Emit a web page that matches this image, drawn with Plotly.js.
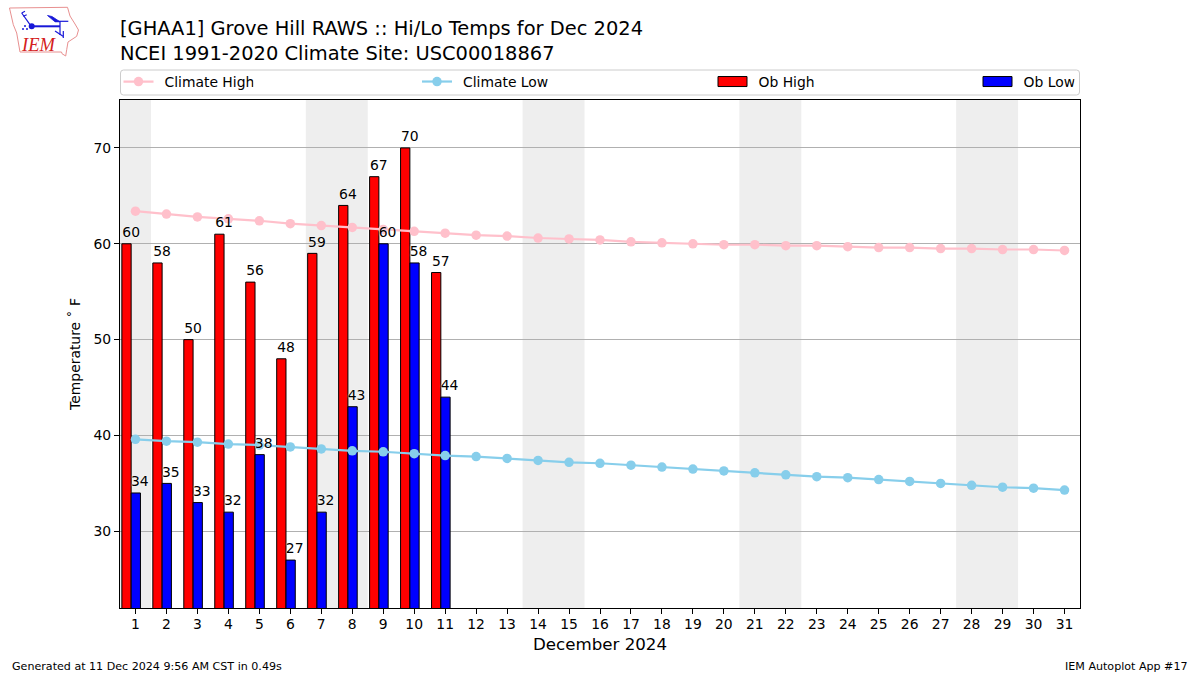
<!DOCTYPE html>
<html><head><meta charset="utf-8">
<script src="https://cdn.plot.ly/plotly-3.0.1.min.js"></script>
<style>html,body{margin:0;padding:0;background:#fff}#c{width:1200px;height:675px}</style>
</head><body><div id="c"></div>
<script>
const days = [1,2,3,4,5,6,7,8,9,10,11,12,13,14,15,16,17,18,19,20,21,22,23,24,25,26,27,28,29,30,31];
const climateHigh = [63.4,63.1,62.8,62.6,62.4,62.1,61.9,61.7,61.5,61.3,61.1,60.9,60.8,60.6,60.5,60.4,60.2,60.1,60.0,59.9,59.9,59.8,59.8,59.7,59.6,59.6,59.5,59.5,59.4,59.4,59.3];
const climateLow = [39.6,39.4,39.3,39.1,39.0,38.8,38.6,38.4,38.3,38.1,37.9,37.8,37.6,37.4,37.2,37.1,36.9,36.7,36.5,36.3,36.1,35.9,35.7,35.6,35.4,35.2,35.0,34.8,34.6,34.5,34.3];
const obsDays = [1,2,3,4,5,6,7,8,9,10,11];
const obHigh = [60,58,50,61,56,48,59,64,67,70,57];
const obLow = [34,35,33,32,38,27,32,43,60,58,44];
const weekends = [[0.5,1.5],[6.5,8.5],[13.5,15.5],[20.5,22.5],[27.5,29.5]];
const yTicks = [30,40,50,60,70];
const FONT = 'DejaVu Sans, sans-serif';
const L=120,R=1080,T=100,B=608;
const px = x => (x-L)/(R-L);
const py = y => (B-y)/(B-T);
const lbl = (x,vals,off) => ({
  x:x.map(d=>d+off), y:vals.map(v=>v+0.35), text:vals.map(String), mode:'text', type:'scatter',
  textposition:'top center', showlegend:false, hoverinfo:'skip',
  textfont:{family:FONT,size:13.9,color:'#000',shadow:'0 0 2px #fff'}
});
const traces = [
  {type:'bar',name:'Ob High',x:obsDays,y:obHigh,width:0.3,offset:-0.44,marker:{color:'#ff0000',line:{color:'#000',width:1}},legend:'legend3'},
  {type:'bar',name:'Ob Low',x:obsDays,y:obLow,width:0.3,offset:-0.14,marker:{color:'#0000ff',line:{color:'#000',width:1}},legend:'legend4'},
  {type:'scatter',mode:'lines+markers',name:'Climate High',x:days,y:climateHigh,line:{color:'#ffc0cb',width:2.2},marker:{color:'#ffc0cb',size:9.5},legend:'legend'},
  {type:'scatter',mode:'lines+markers',name:'Climate Low',x:days,y:climateLow,line:{color:'#87ceeb',width:2.2},marker:{color:'#87ceeb',size:9.5},legend:'legend2'},
  lbl(obsDays,obHigh,-0.14),
  lbl(obsDays,obLow,0.14)
];
const shapes = weekends.map(w=>({type:'rect',xref:'x',yref:'paper',x0:w[0],x1:w[1],y0:0,y1:1,fillcolor:'#eeeeee',line:{width:0},layer:'below'}));
// legend frame
const bx0=px(120.5),bx1=px(1079.5),by0=py(95),by1=py(70),rx=3/960,ry=3/508;
shapes.push({type:'path',xref:'paper',yref:'paper',layer:'below',line:{color:'#cccccc',width:1},fillcolor:'rgba(255,255,255,0.8)',
 path:`M${bx0+rx},${by1} L${bx1-rx},${by1} Q${bx1},${by1} ${bx1},${by1-ry} L${bx1},${by0+ry} Q${bx1},${by0} ${bx1-rx},${by0} L${bx0+rx},${by0} Q${bx0},${by0} ${bx0},${by0+ry} L${bx0},${by1-ry} Q${bx0},${by1} ${bx0+rx},${by1} Z`});
// logo
const poly = (pts,close)=>pts.map((p,i)=>(i?'L':'M')+px(p[0])+','+py(p[1])).join(' ')+(close?' Z':'');
const pathShape=(pts,close,color,w,fill)=>({type:'path',xref:'paper',yref:'paper',path:poly(pts,close),line:{color,width:w},fillcolor:fill||'rgba(0,0,0,0)'});
const iowa=[[9.5,8],[67.5,7.3],[70,16],[75,24],[78.5,30],[76.7,36.3],[68,42],[66.7,49.7],[65.7,56],[62,53.7],[61.5,52],[20,52],[16.7,33],[13.3,24.7]];
shapes.push(pathShape(iowa,true,'#e89090',1,'#fff'));
const LB='#1818d8';
[[[[31.7,26.3],[60,26.3]],2],[[[30,24.7],[21.7,13]],1.2],[[[21.7,13],[25,11.3]],1.2],[[[23.3,16.3],[26.7,14.7]],1.2],
 [[[55,21.3],[68.3,21.3]],1.2],[[[60,21],[60,35]],1.2],[[[55,31],[63,36.3]],1.2],[[[63.3,31],[63.3,38]],1.2]]
 .forEach(b=>shapes.push(pathShape(b[0],false,LB,b[1])));
shapes.push(pathShape([[47.5,15.5],[52,16.5],[60,21.8],[55,21.8]],true,LB,0.8,LB));
const dot=(x,y,r)=>({type:'circle',xref:'paper',yref:'paper',x0:px(x-r),x1:px(x+r),y0:py(y+r),y1:py(y-r),fillcolor:LB,line:{width:0}});
shapes.push(dot(31.7,26.3,3),dot(25,26,1),dot(23,29,1),dot(27,29,1));
const ann=(text,x,y,size,anchor,extra)=>Object.assign({text,xref:'paper',yref:'paper',x:px(x),y:py(y),showarrow:false,xanchor:anchor,yanchor:'middle',font:{family:FONT,size,color:'#000'}},extra||{});
const annotations=[
  ann('Generated at 11 Dec 2024 9:56 AM CST in 0.49s',10,666,11.1,'left'),
  ann('IEM Autoplot App #17',1189.5,666,11.1,'right'),
  ann('<i>IEM</i>',38,45,18,'center',{font:{family:'Liberation Serif, serif',size:18.5,color:'#d42020'}})
];
const legendBase={orientation:'v',bgcolor:'rgba(0,0,0,0)',borderwidth:0,yanchor:'middle',xanchor:'left',y:py(82),font:{family:FONT,size:13.9,color:'#000'},itemwidth:30,itemclick:false,itemdoubleclick:false};
const layout={
  width:1200,height:675,margin:{l:L,r:1200-R,t:T,b:675-B,pad:0},
  paper_bgcolor:'#fff',plot_bgcolor:'#fff',font:{family:FONT,color:'#000'},
  barmode:'overlay',shapes,annotations,hovermode:false,
  title:{text:'[GHAA1] Grove Hill RAWS :: Hi/Lo Temps for Dec 2024<br>NCEI 1991-2020 Climate Site: USC00018867',xref:'paper',x:0,xanchor:'left',yref:'container',y:1-34.5/675,yanchor:'middle',font:{family:FONT,size:19.44,color:'#000'}},
  xaxis:{range:[0.5,31.5],tickvals:days,ticktext:days.map(String),ticks:'outside',ticklen:5,tickwidth:1,tickcolor:'#000',showgrid:false,zeroline:false,ticklabelstandoff:-2,
    showline:true,mirror:true,linecolor:'#000',linewidth:1,tickfont:{family:FONT,size:13.9},tickangle:0,
    title:{text:'December 2024',font:{family:FONT,size:16.67},standoff:7}},
  yaxis:{range:[22,75],tickvals:yTicks,ticktext:yTicks.map(String),ticks:'outside',ticklen:5,tickwidth:1,tickcolor:'#000',showgrid:true,gridcolor:'#b0b0b0',gridwidth:1,zeroline:false,
    showline:true,mirror:true,linecolor:'#000',linewidth:1,tickfont:{family:FONT,size:13.9},
    title:{text:'Temperature ˚ F',font:{family:FONT,size:13.9},standoff:9}},
  legend:Object.assign({},legendBase,{x:px(118.5)}),
  legend2:Object.assign({},legendBase,{x:px(417)}),
  legend3:Object.assign({},legendBase,{x:px(712.5)}),
  legend4:Object.assign({},legendBase,{x:px(977.5)}),
};
function tweakLegend(){
  document.querySelectorAll('.legendpoints path').forEach(p=>{
    const d=p.getAttribute('d')||'';
    if(d.indexOf('H-6V-6H6')>=0) p.setAttribute('d','M-14.5,-5H14.5V5H-14.5Z');
  });
  document.querySelectorAll('text.legendtext, text.legend2text, text.legend3text, text.legend4text').forEach(t=>{
    t.setAttribute('transform','translate(6,0)');
  });
}
const gd=document.getElementById('c');
Plotly.newPlot(gd,traces,layout,{displayModeBar:false}).then(()=>{
  tweakLegend();
  gd.on('plotly_afterplot',tweakLegend);
  [0,50,200,500,1000].forEach(t=>setTimeout(tweakLegend,t));
});
</script></body></html>
